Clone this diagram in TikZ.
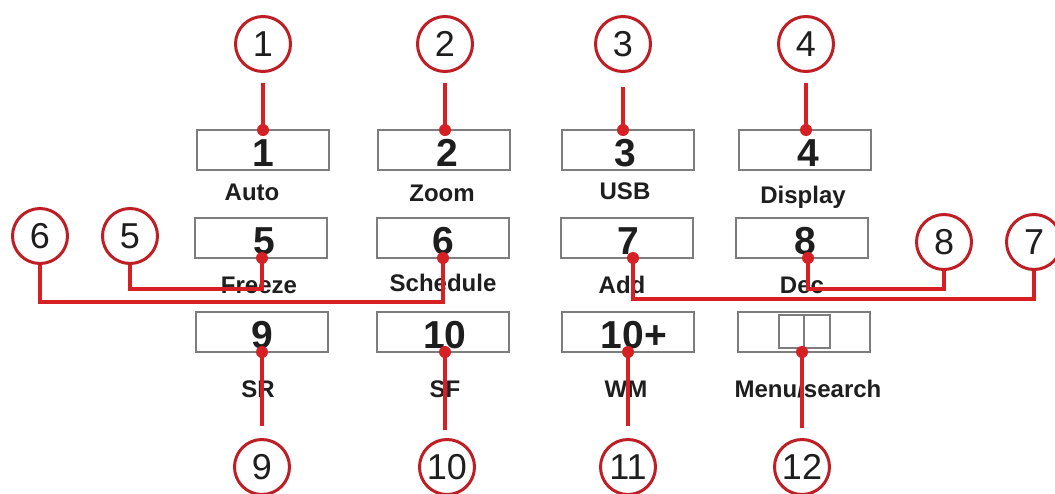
\documentclass[tikz,border=0pt]{standalone}
\usepackage{fontspec}
\setmainfont{Liberation Sans}
\definecolor{leadred}{RGB}{214,32,36}
\definecolor{ringred}{RGB}{190,30,36}
\definecolor{boxgray}{RGB}{125,125,125}
\definecolor{txt}{RGB}{30,30,30}
\begin{document}
\begin{tikzpicture}[x=1pt,y=-1pt,
  keybox/.style={draw=boxgray,line width=1.4pt,minimum width=132pt,minimum height=40pt,inner sep=0pt},
  keydigit/.style={anchor=base,inner sep=0pt,font=\fontsize{39}{39}\selectfont\bfseries,text=txt},
  keylabel/.style={anchor=base,inner sep=0pt,font=\fontsize{24}{24}\selectfont\bfseries,text=txt},
  callout/.style={circle,draw=ringred,line width=3pt,minimum size=55pt,inner sep=0pt,font=\fontsize{36}{36}\selectfont,text=txt},
  pin/.style={circle,fill=leadred,minimum size=12pt,inner sep=0pt},
  lead/.style={draw=leadred,line width=3.2pt}]
\useasboundingbox[fill=white] (0,0) rectangle (1055,493);
% boxes
\node[keybox] (b1) at (263,150) {};
\node[keybox] (b2) at (444,150) {};
\node[keybox] (b3) at (628,150) {};
\node[keybox] (b4) at (805,150) {};
\node[keybox] (b5) at (261,238) {};
\node[keybox] (b6) at (443,238) {};
\node[keybox] (b7) at (627,238) {};
\node[keybox] (b8) at (802,238) {};
\node[keybox] (b9) at (262,332) {};
\node[keybox] (b10) at (443,332) {};
\node[keybox] (b11) at (628,332) {};
\node[keybox] (b12) at (804,332) {};
\draw[boxgray,line width=1.2pt] (779,315) rectangle (830,348);
\draw[boxgray,line width=1.2pt] (804,315) -- (804,348);
% digits
\node[keydigit] (t1) at (263,166) {1};
\node[keydigit] (t2) at (447,166) {2};
\node[keydigit] (t3) at (625,166) {3};
\node[keydigit] (t4) at (808,166) {4};
\node[keydigit] (t5) at (264,254) {5};
\node[keydigit] (t6) at (443,254) {6};
\node[keydigit] (t7) at (628,254) {7};
\node[keydigit] (t8) at (805,254) {8};
\node[keydigit] (t9) at (262,348) {9};
\node[keydigit] (t10) at (445,348) {10};
\node[keydigit] (t11) at (634,348) {10+};
% labels
\node[keylabel] (l1) at (252,200) {Auto};
\node[keylabel] (l2) at (442,201) {Zoom};
\node[keylabel] (l3) at (625,199) {USB};
\node[keylabel] (l4) at (803,203) {Display};
\node[keylabel] (l5) at (259,293) {Freeze};
\node[keylabel] (l6) at (443,291) {Schedule};
\node[keylabel] (l7) at (622,293) {Add};
\node[keylabel] (l8) at (802,293) {Dec};
\node[keylabel] (l9) at (258,397) {SR};
\node[keylabel] (l10) at (445,397) {SF};
\node[keylabel] (l11) at (626,397) {WM};
\node[keylabel] (l12) at (808,397) {Menu/search};
% callouts
\node[callout] (c1) at (263,44) {1};
\node[callout] (c2) at (445,44) {2};
\node[callout] (c3) at (623,44) {3};
\node[callout] (c4) at (806,44) {4};
\node[callout] (c6) at (40,236) {6};
\node[callout] (c5) at (130,236) {5};
\node[callout] (c8) at (944,242) {8};
\node[callout] (c7) at (1034,242) {7};
\node[callout] (c9) at (262,467) {9};
\node[callout] (c10) at (447,467) {10};
\node[callout] (c11) at (628,467) {11};
\node[callout] (c12) at (802,467) {12};
% pin points
\coordinate (d1) at (263,130);
\coordinate (d2) at (445,130);
\coordinate (d3) at (623,130);
\coordinate (d4) at (806,130);
\coordinate (d5) at (262,258);
\coordinate (d6) at (443,258);
\coordinate (d7) at (633,258);
\coordinate (d8) at (808,258);
\coordinate (d9) at (262,352);
\coordinate (d10) at (445,352);
\coordinate (d11) at (628,352);
\coordinate (d12) at (802,352);
\coordinate (k5) at (262,289);
\coordinate (k6) at (443,302);
\coordinate (k8) at (808,289);
\coordinate (k7) at (633,299);
% leads
\draw[lead,shorten <=10pt] (c1.south) -- (d1);
\draw[lead,shorten <=10pt] (c2.south) -- (d2);
\draw[lead,shorten <=14pt] (c3.south) -- (d3);
\draw[lead,shorten <=10pt] (c4.south) -- (d4);
\draw[lead] (c5.south) |- (k5) -- (d5);
\draw[lead] (c6.south) |- (k6) -- (d6);
\draw[lead] (c8.south) |- (k8) -- (d8);
\draw[lead] (c7.south) |- (k7) -- (d7);
\draw[lead,shorten <=12pt] (c9.north) -- (d9);
\draw[lead,shorten <=8pt] (c10.north -| d10) -- (d10);
\draw[lead,shorten <=12pt] (c11.north) -- (d11);
\draw[lead,shorten <=10pt] (c12.north) -- (d12);
% pins
\foreach \i in {1,...,12} \node[pin] (p\i) at (d\i) {};
\end{tikzpicture}
\end{document}
